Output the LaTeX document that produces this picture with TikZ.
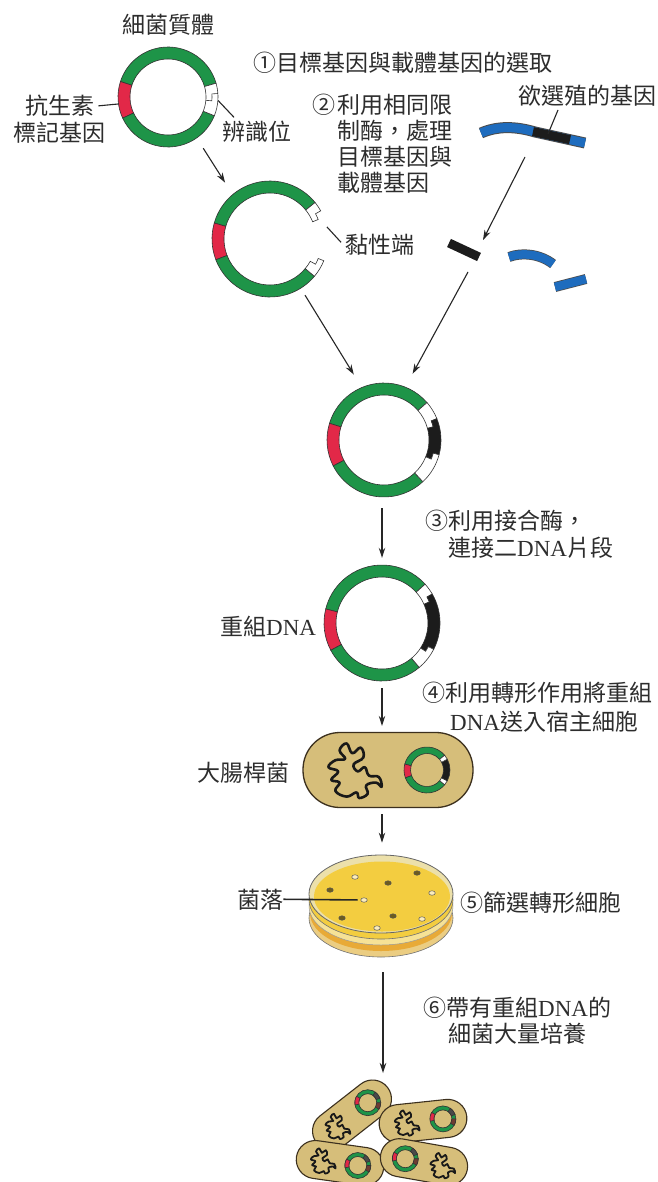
\documentclass[tikz,border=0pt]{standalone}
\usepackage{fontspec}
\setmainfont{Noto Sans CJK TC}
\newfontfamily\dnafont{Liberation Serif}
\usetikzlibrary{arrows.meta,shapes.geometric,calc}

\definecolor{plgreen}{RGB}{30,148,72}
\definecolor{plred}{RGB}{226,40,72}
\definecolor{dnablue}{RGB}{30,108,190}
\definecolor{insert}{RGB}{28,28,28}
\definecolor{cellfill}{RGB}{214,190,122}
\definecolor{celledge}{RGB}{60,48,30}
\definecolor{agar}{RGB}{243,205,64}
\definecolor{agarrim}{RGB}{236,224,170}
\definecolor{dishbase}{RGB}{235,205,130}
\definecolor{dishband}{RGB}{232,170,55}
\definecolor{dishcream}{RGB}{246,226,150}
\definecolor{txt}{RGB}{45,45,45}
\definecolor{cellmark}{RGB}{110,60,50}

\newcommand\dnaw{{\dnafont DNA}}
% annular sector: colour, start angle, end angle, inner radius, outer radius
\newcommand\annseg[5]{\filldraw[segedge,fill=#1] (#2:#5) arc[start angle=#2,end angle=#3,radius=#5] -- (#3:#4) arc[start angle=#3,end angle=#2,radius=#4] -- cycle;}
% cut end with a staggered (sticky) tip: colour, base angle, outer tip, inner tip, r in, r mid, r out
\newcommand\stickyseg[7]{\filldraw[segedge,fill=#1] (#2:#7) arc[start angle=#2,end angle=#3,radius=#7] -- (#3:#6) arc[start angle=#3,end angle=#4,radius=#6] -- (#4:#5) arc[start angle=#4,end angle=#2,radius=#5] -- cycle;}
% inserted fragment with staggered ends on both sides
\newcommand\insertseg[8]{\filldraw[segedge,fill=#1] (#2:#8) arc[start angle=#2,end angle=#4,radius=#8] -- (#4:#7) arc[start angle=#4,end angle=#5,radius=#7] -- (#5:#6) arc[start angle=#5,end angle=#3,radius=#6] -- (#3:#7) arc[start angle=#3,end angle=#2,radius=#7] -- cycle;}

\tikzset{
  chromo/.pic={
    \draw[black!90, line join=round] plot[smooth cycle, tension=0.7] coordinates {
      (-0.30,0.95) (0.05,0.80) (0.15,1.0) (0.45,0.85) (0.40,0.55) (0.75,0.45)
      (0.95,0.60) (0.85,0.25) (0.50,0.20) (0.35,-0.10) (0.10,0.05) (-0.05,-0.20)
      (0.30,-0.45) (0.20,-0.80) (-0.10,-0.60) (-0.30,-0.95) (-0.55,-0.70) (-0.35,-0.40)
      (-0.70,-0.35) (-0.95,-0.10) (-0.60,0.05) (-0.85,0.35) (-0.55,0.45) (-0.70,0.75)};
  },
  miniring/.pic={
    \begin{scope}[yscale=-1]
      \filldraw[segedge, fill=plgreen, even odd rule] (0,0) circle[radius=13] circle[radius=9];
      \annseg{plred}{150}{190}{9}{13}
      \annseg{insert!80}{20}{55}{9}{13}
      \annseg{cellmark}{-30}{0}{9}{13}
    \end{scope}
  }
}

\begin{document}
\begin{tikzpicture}[x=1pt,y=-1pt,
  lbl/.style={font=\fontsize{23}{26}\selectfont, text=txt, inner sep=0pt},
  segedge/.style={draw=black!80, line width=0.6pt},
  ringspot/.style={circle, inner sep=0pt, draw=none},
  flow/.style={draw=black!85, line width=1.1pt, -{Stealth[length=10pt,width=6.5pt]}},
  leader/.style={draw=black!85, line width=1.1pt},
  cellbody/.style={rectangle, draw=celledge, line width=1.3pt, fill=cellfill},
  cellpath/.style={draw=celledge, line width=1.1pt, fill=cellfill},
  colony/.style={ellipse, draw=black!65, line width=0.5pt, minimum width=6.5pt, minimum height=4.5pt, inner sep=0pt},
  darkcol/.style={colony, fill=black!55!agar},
  lightcol/.style={colony, fill=agar!35!white},
]
\useasboundingbox (0,0) rectangle (657,1182);
\fill[white] (0,0) rectangle (657,1182);
\clip (0,0) rectangle (657,1182);

% ---------- bacterial plasmid ----------
\node[ringspot, minimum size=100pt] (pl1) at (168,97) {};
\begin{scope}[shift={(pl1)}, yscale=-1]
  \annseg{plgreen}{16}{162}{38}{50}
  \annseg{plred}{162}{205}{38}{50}
  \annseg{plgreen}{205}{338}{38}{50}
  \annseg{white}{-22}{16}{38}{50}
  \draw[segedge] (4:50) -- (4:44) arc[start angle=4,end angle=-5,radius=44] -- (-5:38);
\end{scope}

% ---------- opened plasmid ----------
\node[ringspot, minimum size=116pt] (pl2) at (270,239) {};
\begin{scope}[shift={(pl2)}, yscale=-1]
  \annseg{plgreen}{39}{164}{46}{58}
  \annseg{plred}{164}{201}{46}{58}
  \annseg{plgreen}{201}{320}{46}{58}
  \stickyseg{white}{39}{29}{22}{46}{52}{58}
  \stickyseg{white}{-40}{-22}{-29}{46}{52}{58}
\end{scope}

% ---------- annealed plasmid ----------
\node[ringspot, minimum size=114pt] (pl3) at (384,440) {};
\begin{scope}[shift={(pl3)}, yscale=-1]
  \annseg{plgreen}{41}{163}{45}{57}
  \annseg{plred}{163}{207}{45}{57}
  \annseg{plgreen}{207}{313}{45}{57}
  \stickyseg{white}{41}{22}{15}{45}{51}{57}
  \insertseg{insert}{22}{15}{-15}{-22}{45}{51}{57}
  \stickyseg{white}{-47}{-15}{-22}{45}{51}{57}
\end{scope}

% ---------- recombinant DNA ----------
\node[ringspot, minimum size=116pt] (pl4) at (382,623) {};
\begin{scope}[shift={(pl4)}, yscale=-1]
  \annseg{plgreen}{42}{166}{46}{58}
  \annseg{plred}{166}{208}{46}{58}
  \annseg{plgreen}{208}{310}{46}{58}
  \stickyseg{white}{42}{30}{24}{46}{52}{58}
  \insertseg{insert}{30}{24}{-27}{-33}{46}{52}{58}
  \stickyseg{white}{-50}{-27}{-33}{46}{52}{58}
\end{scope}

% ---------- donor DNA and fragments ----------
\draw[line width=11pt, black!70] (481,133) .. controls (497,126) and (515,126) .. (535,132) -- (585,143);
\draw[line width=9pt, dnablue] (481,133) .. controls (497,126) and (515,126) .. (535,132) -- (585,143);
\draw[line width=9pt, insert] (533,131.6) -- (570,139.7);
\coordinate (geneTick) at (548,134);
\coordinate (geneOut) at (525,157);

\draw[line width=9pt, insert] (449,243) -- (479,257);
\coordinate (fragIn) at (483,240);
\coordinate (fragOut) at (468,272);

\draw[line width=10pt, black!70] (509,257) .. controls (522,252) and (540,254) .. (553,264);
\draw[line width=8.5pt, dnablue] (509,257) .. controls (522,252) and (540,254) .. (553,264);
\draw[line width=10pt, black!70] (555,287) -- (586,279);
\draw[line width=8.5pt, dnablue] (555,287) -- (586,279);

% ---------- host cell ----------
\node[cellbody, minimum width=170pt, minimum height=75pt, rounded corners=37pt] (ecoli) at (388,770) {};
\pic[scale=28, line width=2.6pt] at (355,770) {chromo};
\node[ringspot, minimum size=46pt] (pl5) at (427,770) {};
\begin{scope}[shift={(pl5)}, yscale=-1]
  \annseg{plgreen}{40}{165}{16.5}{23}
  \annseg{plred}{165}{200}{16.5}{23}
  \annseg{plgreen}{200}{320}{16.5}{23}
  \annseg{white}{-40}{-28}{16.5}{23}
  \annseg{insert}{-28}{28}{16.5}{23}
  \annseg{white}{28}{40}{16.5}{23}
\end{scope}

% ---------- culture plate ----------
\filldraw[fill=dishbase, draw=black!55, line width=0.6pt] (381,918) ellipse [x radius=72, y radius=39];
\fill[dishband] (381,913) ellipse [x radius=71, y radius=38];
\filldraw[fill=dishcream, draw=black!40, line width=0.5pt] (381,906) ellipse [x radius=72, y radius=39];
\filldraw[fill=agar, draw=black!55, line width=0.6pt] (381,900) ellipse [x radius=72, y radius=39];
\node[ellipse, draw=black!60, line width=0.8pt, fill=agarrim, minimum width=144pt, minimum height=78pt, inner sep=0pt] (dish) at (381,894) {};
\fill[agar] (382,896.5) ellipse [x radius=68, y radius=35];
\node[darkcol] (c1) at (388,883) {};
\node[darkcol] (c2) at (417,873) {};
\node[darkcol] (c3) at (330,890) {};
\node[darkcol] (c4) at (342,918) {};
\node[darkcol] (c5) at (393,916) {};
\node[lightcol] (c6) at (355,877) {};
\node[lightcol] (c7) at (432,893) {};
\node[lightcol] (c8) at (364,900) {};
\node[lightcol] (c9) at (422,919) {};
\node[lightcol] (c10) at (377,928) {};
\coordinate (dishBase) at (383,957);

% ---------- mass culture ----------
\coordinate (culture) at (383,1083);
\begin{scope}[shift={(352,1115)}, rotate=38]
  \filldraw[cellpath, rounded corners=19pt] (-45,-19) rectangle (45,19);
  \pic[scale=13, line width=1.8pt] at (-18,0) {chromo};
  \pic at (20,0) {miniring};
\end{scope}
\begin{scope}[shift={(423,1121)}, rotate=6]
  \filldraw[cellpath, rounded corners=19pt] (-44,-19) rectangle (44,19);
  \pic[scale=13, line width=1.8pt] at (-16,0) {chromo};
  \pic at (20,0) {miniring};
\end{scope}
\begin{scope}[shift={(340,1163)}, rotate=-8]
  \filldraw[cellpath, rounded corners=19pt] (-44,-19) rectangle (44,19);
  \pic[scale=13, line width=1.8pt] at (-17,0) {chromo};
  \pic at (18,0) {miniring};
\end{scope}
\begin{scope}[shift={(424,1162)}, rotate=-10]
  \filldraw[cellpath, rounded corners=19pt] (-44,-19) rectangle (44,19);
  \pic[scale=13, line width=1.8pt] at (19,0) {chromo};
  \pic at (-19,0) {miniring};
\end{scope}

% ---------- labels ----------
\node[lbl, anchor=base] (tPlasmid) at (168,34) {細菌質體};
\node[lbl, anchor=base west] (tStep1) at (253,72) {①目標基因與載體基因的選取};
\node[lbl, anchor=base west] (tAnti1) at (25,115) {抗生素};
\node[lbl, anchor=base west] (tAnti2) at (13,142) {標記基因};
\node[lbl, anchor=base west] (tSite) at (222,141) {辨識位};
\node[lbl, anchor=base west] (tStep2n) at (312,114) {②};
\node[lbl, anchor=base west] (tStep2a) at (337,114) {利用相同限};
\node[lbl, anchor=base west] (tStep2b) at (337,140) {制酶，處理};
\node[lbl, anchor=base west] (tStep2c) at (337,166) {目標基因與};
\node[lbl, anchor=base west] (tStep2d) at (337,192) {載體基因};
\node[lbl, anchor=base west] (tGene) at (518,105) {欲選殖的基因};
\node[lbl, anchor=base west] (tSticky) at (345,253) {黏性端};
\node[lbl, anchor=base west] (tStep3a) at (425,529) {③利用接合酶，};
\node[lbl, anchor=base west] (tStep3b) at (448,556) {連接二\dnaw 片段};
\node[lbl, anchor=base west] (tRecomb) at (220,635) {重組\dnaw};
\node[lbl, anchor=base west] (tStep4a) at (422,701) {④利用轉形作用將重組};
\node[lbl, anchor=base west] (tStep4b) at (450,730) {\dnaw 送入宿主細胞};
\node[lbl, anchor=base west] (tEcoli) at (197,781) {大腸桿菌};
\node[lbl, anchor=base west] (tColony) at (237,908) {菌落};
\node[lbl, anchor=base west] (tStep5) at (460,911) {⑤篩選轉形細胞};
\node[lbl, anchor=base west] (tStep6a) at (423,1016) {⑥帶有重組\dnaw 的};
\node[lbl, anchor=base west] (tStep6b) at (448,1042) {細菌大量培養};

% ---------- leader lines ----------
\draw[leader, shorten <=4pt] (tAnti1.east) -- (pl1.188);
\draw[leader] (pl1.-4) -- ($(tSite.north west)+(12,-4)$);
\draw[leader] (pl2.12) -- ($(tSticky.west)+(-4,-2)$);
\draw[leader] ($(tGene.base west)+(40,5)$) -- (geneTick);
\draw[leader, line width=1.6pt, shorten >=3pt] (tColony.east) -- (c8);

% ---------- process arrows ----------
\draw[flow, shorten <=12pt, shorten >=14pt] (pl1.-55) -- (pl2.130);
\draw[flow] (geneOut) -- (fragIn);
\draw[flow, shorten <=8pt, shorten >=15pt] (pl2.-58) -- (pl3.113);
\draw[flow, shorten >=15pt] (fragOut) -- (pl3.68);
\draw[flow, shorten <=11pt, shorten >=7pt] (pl3.south -| pl4) -- (pl4.north);
\draw[flow, shorten <=7pt, shorten >=6pt] (pl4.south) -- (pl4.south |- ecoli.north);
\draw[flow, shorten <=6pt, shorten >=12pt] (pl4.south |- ecoli.south) -- (pl4.south |- dish.north);
\draw[flow, shorten <=15pt, shorten >=10pt] (dishBase) -- (culture);
\end{tikzpicture}
\end{document}
